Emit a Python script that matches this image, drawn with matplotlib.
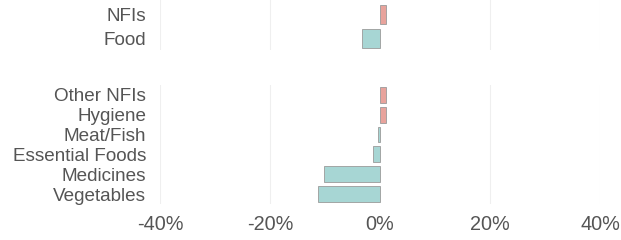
import matplotlib
matplotlib.use("Agg")
import matplotlib.pyplot as plt

top_labels = ["Food", "NFIs"]
top_values = [-3.2, 1.1]
bottom_labels = ["Vegetables", "Medicines", "Essential Foods", "Meat/Fish", "Hygiene", "Other NFIs"]
bottom_values = [-11.2, -10.1, -1.2, -0.3, 1.0, 1.0]
x_ticks = [-40, -20, 0, 20, 40]

POS = "#E8A39C"
NEG = "#A7D6D4"
TEXT = "#555555"

plt.rcParams["font.family"] = ["Liberation Sans", "DejaVu Sans"]

fig = plt.figure(figsize=(6.21, 2.4), dpi=100)
ax_top = fig.add_axes([0.2577, 0.7917, 0.7085, 0.245])
ax_bot = fig.add_axes([0.2577, 0.15, 0.7085, 0.496])


def draw(ax, labels, values, ylim_top):
    colors = [POS if v > 0 else NEG for v in values]
    ax.barh(range(len(values)), values, height=0.8, color=colors,
            edgecolor="#9a9a9a", linewidth=0.6, zorder=2)
    ax.set_xlim(-40, 40)
    ax.set_ylim(-0.5, ylim_top)
    ax.set_yticks(range(len(labels)))
    ax.set_yticklabels(labels, fontsize=13.6, color=TEXT)
    for x in [-40, -20, 20, 40]:
        ax.axvline(x, color="#efefef", linewidth=0.8, zorder=0)
    for s in ax.spines.values():
        s.set_visible(False)
    ax.tick_params(axis="y", length=0, pad=10)
    ax.tick_params(axis="x", length=0)


draw(ax_top, top_labels, top_values, 2.0)
draw(ax_bot, bottom_labels, bottom_values, len(bottom_labels) - 0.5)

ax_top.set_xticks([])
ax_bot.set_xticks(x_ticks)
ax_bot.set_xticklabels([f"{t}%" for t in x_ticks], fontsize=14.3, color=TEXT)
ax_bot.tick_params(axis="x", pad=8)

fig.savefig("out.png", dpi=100)
